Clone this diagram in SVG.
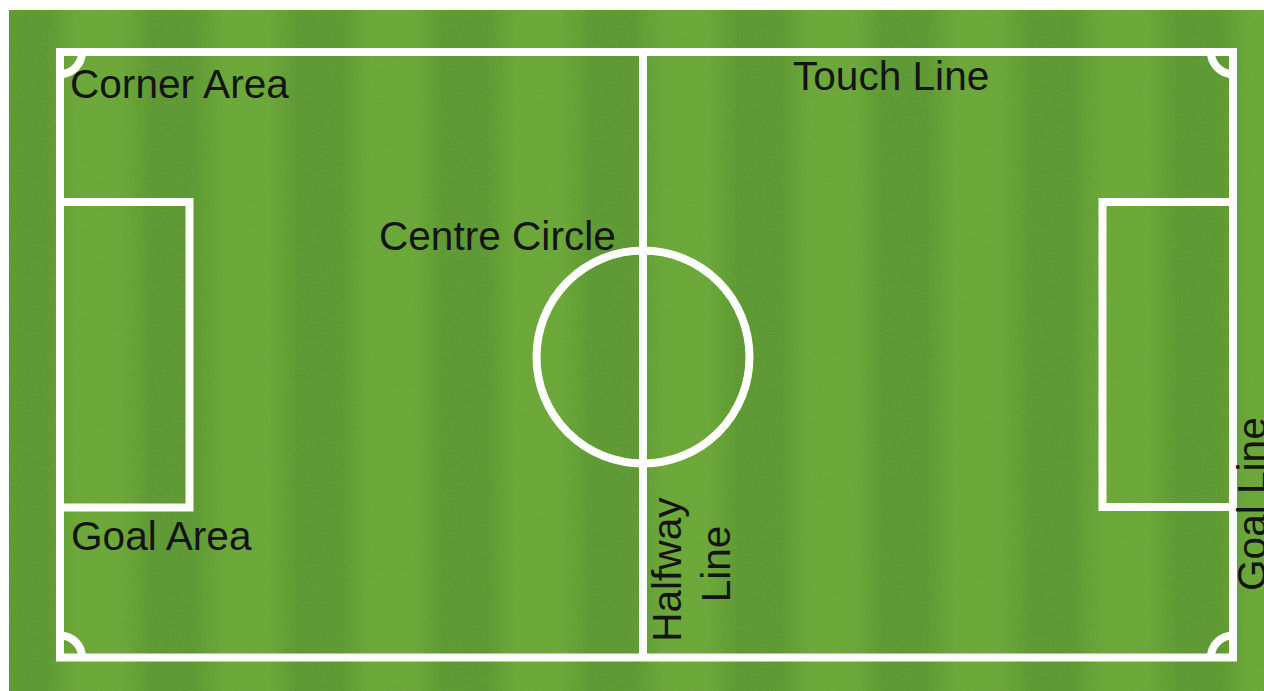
<svg xmlns="http://www.w3.org/2000/svg" width="1264" height="691" viewBox="0 0 1264 691">
  <style>
    .line { fill: none; stroke: #ffffff; stroke-width: 8; }
    .label { font-family: "Liberation Sans", Arial, sans-serif; font-size: 40.6px; fill: #141414; }
  </style>
  <defs>
    <linearGradient id="stripes" gradientUnits="userSpaceOnUse" x1="-11" y1="0" x2="135.6" y2="0" spreadMethod="repeat">
      <stop offset="0" stop-color="#63a033"/>
      <stop offset="0.1" stop-color="#5c9831"/>
      <stop offset="0.4" stop-color="#5c9831"/>
      <stop offset="0.5" stop-color="#63a033"/>
      <stop offset="0.6" stop-color="#6aa737"/>
      <stop offset="0.9" stop-color="#6aa737"/>
      <stop offset="1" stop-color="#63a033"/>
    </linearGradient>
    <filter id="grain" x="0" y="0" width="100%" height="100%">
      <feTurbulence type="fractalNoise" baseFrequency="0.85" numOctaves="2" seed="3" result="n"/>
      <feColorMatrix in="n" type="matrix" values="0 0 0 0 0.25  0 0 0 0 0.45  0 0 0 0 0.12  0 0 0 1.2 -0.4"/>
    </filter>
  </defs>

  <rect x="0" y="0" width="1264" height="691" fill="#ffffff"/>
  <g id="grass">
    <rect x="9" y="10" width="1255" height="681" fill="url(#stripes)"/>
    <rect x="9" y="10" width="1255" height="681" filter="url(#grain)" opacity="0.4"/>
  </g>

  <g id="touch-lines">
    <rect class="line" x="60" y="52" width="1173" height="605.5"/>
  </g>
  <g id="halfway-line">
    <line class="line" x1="643" y1="52" x2="643" y2="657.5"/>
  </g>
  <g id="centre-circle">
    <circle class="line" cx="643" cy="357" r="106.5" stroke-width="8.5"/>
  </g>
  <g id="goal-area-left">
    <path class="line" d="M 60 202 H 189.5 V 507.5 H 60"/>
  </g>
  <g id="goal-area-right">
    <path class="line" d="M 1233 202 H 1102.5 V 507 H 1233"/>
  </g>
  <g id="corner-areas">
    <path class="line" d="M 82 52 A 22 22 0 0 1 60 74"/>
    <path class="line" d="M 1211 52 A 22 22 0 0 0 1233 74"/>
    <path class="line" d="M 60 635.5 A 22 22 0 0 1 82 657.5"/>
    <path class="line" d="M 1211 657.5 A 22 22 0 0 1 1233 635.5"/>
  </g>

  <g id="labels">
    <text id="label-corner-area" class="label" x="70" y="98">Corner Area</text>
    <text id="label-touch-line" class="label" x="793" y="90">Touch Line</text>
    <text id="label-centre-circle" class="label" x="379" y="250">Centre Circle</text>
    <text id="label-goal-area" class="label" x="71" y="550">Goal Area</text>
    <text id="label-halfway-line" class="label" text-anchor="middle" transform="translate(681,564) rotate(-90)">
      <tspan x="0" y="0">Halfway</tspan>
      <tspan x="0" y="49">Line</tspan>
    </text>
    <text id="label-goal-line" class="label" transform="translate(1266,591) rotate(-90)">Goal Line</text>
  </g>
</svg>
